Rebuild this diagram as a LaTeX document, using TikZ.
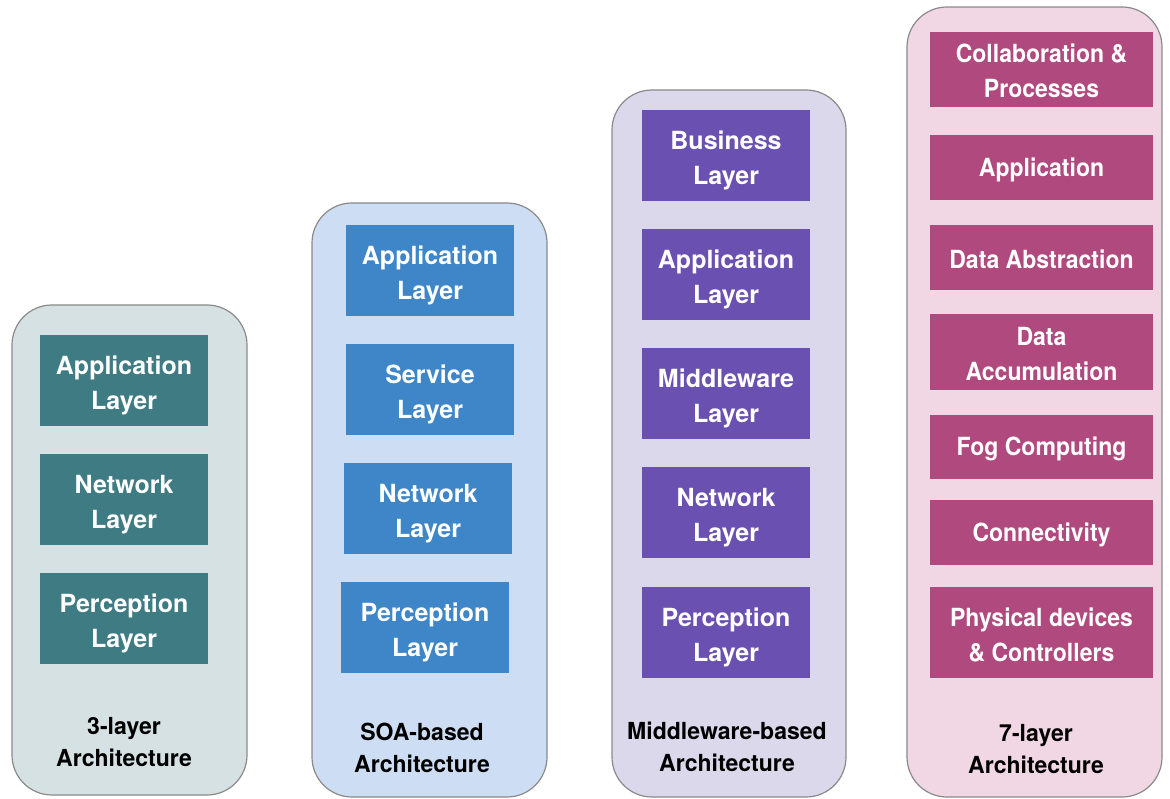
\documentclass[tikz,border=0pt]{standalone}
\usepackage{fontspec}
\setmainfont{TeX Gyre Heros}
\definecolor{c1bg}{HTML}{D6E1E4}
\definecolor{c1fg}{HTML}{3F7B83}
\definecolor{c2bg}{HTML}{CDDDF3}
\definecolor{c2fg}{HTML}{3E86C7}
\definecolor{c3bg}{HTML}{DCD8EC}
\definecolor{c3fg}{HTML}{6A50B0}
\definecolor{c4bg}{HTML}{F1D7E3}
\definecolor{c4fg}{HTML}{B0497D}
\definecolor{edge}{HTML}{8A8A8A}
\tikzset{
  container/.style={draw=edge, line width=1.2pt, rounded corners=40pt},
  layerbox/.style={draw=none, text=white, font=\bfseries\fontsize{25}{35}\selectfont, align=center, inner sep=0pt},
  archlabel/.style={text=black, font=\bfseries\fontsize{23.5}{32}\selectfont, align=center, inner sep=0pt, xscale=0.98}
}
% name, color, x1, y1, x2, y2, text, xscale, yshift
\newcommand{\layerat}[9]{%
  \fill[#2] (#3,#4) rectangle (#5,#6);
  \node[layerbox, xscale=#8] (#1) at ({(#3+#5)/2},{(#4+#6)/2+#9}) {#7};
}
\begin{document}
\begin{tikzpicture}[x=1pt,y=-1pt]
\useasboundingbox (0,0) rectangle (1170,799);
\fill[white] (0,0) rectangle (1170,799);
% column 1
\draw[container, fill=c1bg] (12,305) rectangle (247,795);
\layerat{a1}{c1fg}{40}{335}{208}{426}{Application\\Layer}{1}{5}
\layerat{a2}{c1fg}{40}{454}{208}{545}{Network\\Layer}{1}{5}
\layerat{a3}{c1fg}{40}{573}{208}{664}{Perception\\Layer}{1}{5}
\node[archlabel] (l1) at (124,742) {3-layer\\Architecture};
% column 2
\draw[container, fill=c2bg] (312,203) rectangle (547,797);
\layerat{b1}{c2fg}{346}{225}{514}{316}{Application\\Layer}{1}{5}
\layerat{b2}{c2fg}{346}{344}{514}{435}{Service\\Layer}{1}{5}
\layerat{b3}{c2fg}{344}{463}{512}{554}{Network\\Layer}{1}{5}
\layerat{b4}{c2fg}{341}{582}{509}{673}{Perception\\Layer}{1}{5}
\node[archlabel] (l2) at (422,748) {SOA-based\\Architecture};
% column 3
\draw[container, fill=c3bg] (612,90) rectangle (846,797);
\layerat{m1}{c3fg}{642}{110}{810}{201}{Business\\Layer}{1}{5}
\layerat{m2}{c3fg}{642}{229}{810}{320}{Application\\Layer}{1}{5}
\layerat{m3}{c3fg}{642}{348}{810}{439}{Middleware\\Layer}{1}{5}
\layerat{m4}{c3fg}{642}{467}{810}{558}{Network\\Layer}{1}{5}
\layerat{m5}{c3fg}{642}{587}{810}{678}{Perception\\Layer}{1}{5}
\node[archlabel] (l3) at (727,747) {Middleware-based\\Architecture};
% column 4
\draw[container, fill=c4bg] (907,7) rectangle (1162,797);
\layerat{s1}{c4fg}{930}{32}{1153}{107}{Collaboration \&\\Processes}{0.92}{1}
\layerat{s2}{c4fg}{930}{135}{1153}{200}{Application}{0.92}{2}
\layerat{s3}{c4fg}{930}{225}{1153}{290}{Data Abstraction}{0.92}{2}
\layerat{s4}{c4fg}{930}{314}{1153}{390}{Data\\Accumulation}{0.92}{2}
\layerat{s5}{c4fg}{930}{415}{1153}{479}{Fog Computing}{0.92}{2}
\layerat{s6}{c4fg}{930}{500}{1153}{565}{Connectivity}{0.92}{2}
\layerat{s7}{c4fg}{930}{587}{1153}{678}{Physical devices\\\& Controllers}{0.92}{2}
\node[archlabel] (l4) at (1036,749) {7-layer\\Architecture};
\end{tikzpicture}
\end{document}
